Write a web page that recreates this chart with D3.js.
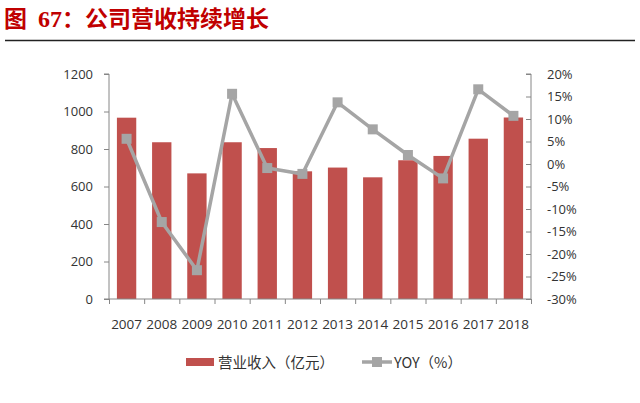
<!DOCTYPE html>
<html>
<head>
<meta charset="utf-8">
<script src="https://cdn.jsdelivr.net/npm/d3@7"></script>
<style>
  body { margin: 0; background: #fff; }
  svg { display: block; font-family: "Open Sans", "Noto Sans CJK SC", sans-serif; }
</style>
</head>
<body>
<div id="chart"><svg width="640" height="403"></svg></div>
<script>
const YEARS = ['2007', '2008', '2009', '2010', '2011', '2012', '2013', '2014', '2015', '2016', '2017', '2018'];
const REVENUE = [967, 836, 670, 836, 805, 681, 701, 649, 740, 763, 855, 968];
const YOY = [5.6, -12.9, -23.6, 15.6, -0.9, -2.2, 13.7, 7.7, 2.0, -3.2, 16.6, 10.7];
const LEFT_TICKS = [0, 200, 400, 600, 800, 1000, 1200];
const RIGHT_TICKS = [-30, -25, -20, -15, -10, -5, 0, 5, 10, 15, 20];

const SVG = d3.select('#chart svg');
const LEFT = 109, RIGHT = 531, TOP = 74, BOTTOM = 299;
const BAR_COLOR = '#c0504d';
const LINE_COLOR = '#a5a5a5';
const TEXT_COLOR = '#333';
const AXIS_COLOR = '#868686';
const CJK = '"Noto Sans CJK SC", sans-serif';

// title
const TITLE = SVG.append('text')
  .attr('x', 4)
  .attr('y', 27)
  .style('font-family', CJK)
  .style('font-size', '23px')
  .style('font-weight', '700')
  .style('fill', '#c00000');
TITLE.append('tspan').text('图');
TITLE.append('tspan')
  .attr('dx', 11)
  .text('67')
  .style('font-family', '"Liberation Serif", serif')
  .style('font-size', '24px');
TITLE.append('tspan').text('：公司营收持续增长');

SVG.append('line')
  .attr('x1', 5).attr('x2', 635)
  .attr('y1', 40.5).attr('y2', 40.5)
  .style('stroke', '#222')
  .style('stroke-width', 1.6);

const X_SCALE = d3.scaleBand()
  .domain(YEARS)
  .range([LEFT, RIGHT])
  .paddingInner(0.45)
  .paddingOuter(0.225);

const X_EDGE = d3.scaleLinear()
  .domain([0, YEARS.length])
  .range([LEFT, RIGHT]);

const Y_LEFT = d3.scaleLinear()
  .domain([0, 1200])
  .range([BOTTOM, TOP]);

const Y_RIGHT = d3.scaleLinear()
  .domain([-30, 20])
  .range([BOTTOM, TOP]);

// bars
SVG.append('g')
  .attr('id', 'bars')
  .selectAll('rect')
  .data(REVENUE)
  .join('rect')
  .attr('x', (d, i) => X_SCALE(YEARS[i]))
  .attr('width', X_SCALE.bandwidth())
  .attr('y', d => Y_LEFT(d))
  .attr('height', d => BOTTOM - Y_LEFT(d))
  .style('fill', BAR_COLOR);

// left axis
const Y_AXIS_L = d3.axisLeft(Y_LEFT).tickValues(LEFT_TICKS).tickSize(5).tickPadding(11)
  .tickFormat(d3.format('d'));
const YL_G = SVG.append('g')
  .attr('id', 'yAxisLeft')
  .attr('transform', `translate(${LEFT},0)`);
Y_AXIS_L(YL_G);

// right axis (ticks point inward)
const Y_AXIS_R = d3.axisRight(Y_RIGHT).tickValues(RIGHT_TICKS).tickSize(-5).tickPadding(16)
  .tickFormat(d => d + '%');
const YR_G = SVG.append('g')
  .attr('id', 'yAxisRight')
  .attr('transform', `translate(${RIGHT},0)`);
Y_AXIS_R(YR_G);

// bottom axis: ticks at category boundaries
const X_AXIS = d3.axisBottom(X_EDGE).tickValues(d3.range(YEARS.length + 1)).tickSize(5).tickFormat('');
const X_G = SVG.append('g')
  .attr('id', 'xAxis')
  .attr('transform', `translate(0,${BOTTOM})`);
X_AXIS(X_G);

SVG.append('g')
  .selectAll('text')
  .data(YEARS)
  .join('text')
  .attr('x', d => X_SCALE(d) + X_SCALE.bandwidth() / 2)
  .attr('y', 329)
  .text(d => d)
  .style('text-anchor', 'middle')
  .style('font-size', '13.5px')
  .style('fill', TEXT_COLOR);

[YL_G, YR_G, X_G].forEach(g => {
  g.select('.domain').style('stroke', AXIS_COLOR);
  g.selectAll('.tick line').style('stroke', AXIS_COLOR);
  g.selectAll('.tick text')
    .style('font-size', '13px')
    .style('font-family', '"Open Sans", sans-serif')
    .style('fill', TEXT_COLOR);
});
YL_G.select('.domain').attr('d', `M-5,${BOTTOM}H0V${TOP}H-5`);
YR_G.select('.domain').attr('d', `M0,${BOTTOM}V${TOP}H-5`);
X_G.select('.domain').attr('d', `M${LEFT},0H${RIGHT}`);

// YOY line
const CX = i => X_SCALE(YEARS[i]) + X_SCALE.bandwidth() / 2;
SVG.append('path')
  .datum(YOY)
  .attr('d', d3.line((d, i) => CX(i), d => Y_RIGHT(d)))
  .style('fill', 'none')
  .style('stroke', LINE_COLOR)
  .style('stroke-width', 3.5)
  .style('stroke-linejoin', 'round');

SVG.append('g')
  .selectAll('rect')
  .data(YOY)
  .join('rect')
  .attr('x', (d, i) => CX(i) - 5)
  .attr('y', d => Y_RIGHT(d) - 5)
  .attr('width', 10)
  .attr('height', 10)
  .style('fill', LINE_COLOR);

// legend
const LEGEND = SVG.append('g').attr('id', 'legend');
LEGEND.append('rect')
  .attr('x', 186).attr('y', 358)
  .attr('width', 28).attr('height', 8)
  .style('fill', BAR_COLOR);
LEGEND.append('text')
  .attr('x', 218).attr('y', 367.5)
  .text('营业收入（亿元）')
  .style('font-family', CJK)
  .style('font-size', '14.5px')
  .style('fill', TEXT_COLOR);
LEGEND.append('line')
  .attr('x1', 362).attr('x2', 392)
  .attr('y1', 362).attr('y2', 362)
  .style('stroke', LINE_COLOR)
  .style('stroke-width', 3.5);
LEGEND.append('rect')
  .attr('x', 372).attr('y', 357)
  .attr('width', 10).attr('height', 10)
  .style('fill', LINE_COLOR);
LEGEND.append('text')
  .attr('x', 394).attr('y', 367.5)
  .text('YOY（%）')
  .style('font-family', CJK)
  .style('font-size', '14.5px')
  .style('fill', TEXT_COLOR);
</script>
</body>
</html>
